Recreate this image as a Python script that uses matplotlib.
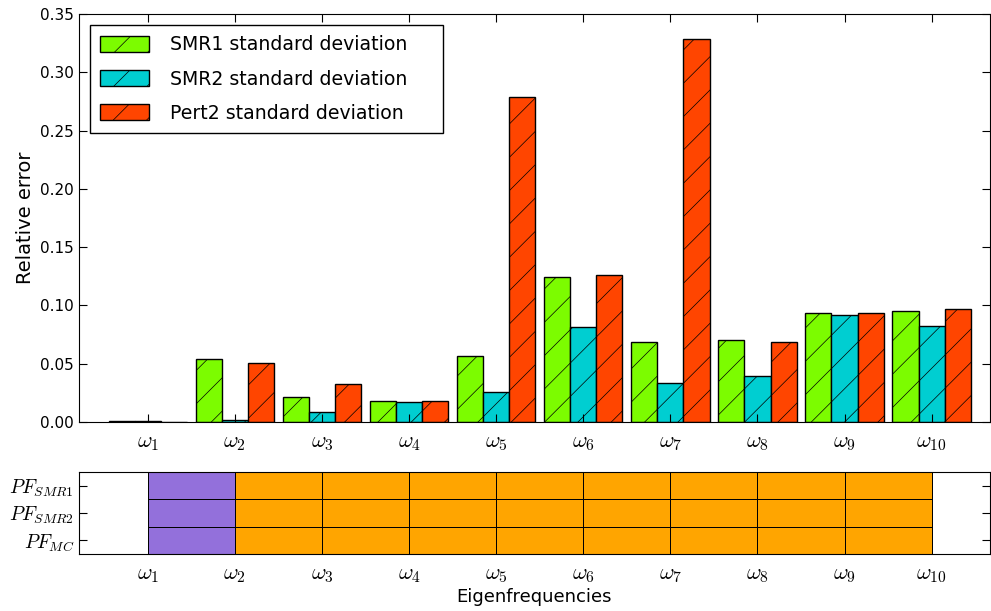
import numpy as np
import matplotlib
import matplotlib.pyplot as plt
from matplotlib.colors import ListedColormap

# Eigenfrequency labels
modes = [r'$\omega_{%d}$' % i for i in range(1, 11)]

# Relative error (standard deviations)
smr1_std = [0.0012, 0.054, 0.0215, 0.018, 0.0565, 0.1245, 0.0685, 0.070, 0.0932, 0.0955]
smr2_std = [0.0005, 0.0020, 0.0085, 0.017, 0.0257, 0.0818, 0.0335, 0.0395, 0.0918, 0.0825]
pert2_std = [0.0003, 0.0505, 0.0328, 0.018, 0.2785, 0.1262, 0.3288, 0.0685, 0.0932, 0.0968]

# Best performing method between consecutive eigenfrequencies (1 = purple, 0 = orange)
pf_rows = ['$PF_{SMR1}$', '$PF_{SMR2}$', '$PF_{MC}$']
pf_smr1 = [1, 0, 0, 0, 0, 0, 0, 0, 0]
pf_smr2 = [1, 0, 0, 0, 0, 0, 0, 0, 0]
pf_mc = [1, 0, 0, 0, 0, 0, 0, 0, 0]

plt.rcParams['mathtext.fontset'] = 'cm'
plt.rcParams['hatch.linewidth'] = 0.5

fig = plt.figure(figsize=(9.91, 6.11), dpi=100)
ax = fig.add_axes([79/991, 189/611, 911/991, 408/611])
ax2 = fig.add_axes([79/991, 57/611, 911/991, 82/611])

x = np.arange(1, 11)
w = 0.3
ax.bar(x - w, smr1_std, w, color='#7CFC00', edgecolor='black', hatch='/', label='SMR1 standard deviation')
ax.bar(x, smr2_std, w, color='#00CED1', edgecolor='black', hatch='/', label='SMR2 standard deviation')
ax.bar(x + w, pert2_std, w, color='#FF4500', edgecolor='black', hatch='/', label='Pert2 standard deviation')

ax.set_xlim(0.21, 10.67)
ax.set_ylim(0, 0.35)
ax.set_xticks(x)
ax.set_xticklabels(modes, fontsize=16)
ax.set_yticks(np.arange(0, 0.351, 0.05))
ax.set_yticklabels(['%.2f' % v for v in np.arange(0, 0.351, 0.05)], fontsize=11)
ax.set_ylabel('Relative error', fontsize=14)
ax.tick_params(direction='in', top=True, right=True, length=6)
ax.tick_params(axis='x', pad=8)
ax.legend(loc='upper left', bbox_to_anchor=(0.012, 0.973, 0.3875, 0.0), mode='expand',
          fontsize=13.6, handlelength=2.6, handleheight=0.95,
          borderpad=0.55, labelspacing=0.8, handletextpad=1.1, fancybox=False,
          edgecolor='black', framealpha=1, borderaxespad=0)

# Bottom panel: performance cells
grid = np.array([pf_mc, pf_smr2, pf_smr1])
cmap = ListedColormap(['#FFA500', '#9370DB'])
ax2.pcolormesh(np.arange(1, 11), np.arange(0, 4), grid, cmap=cmap, vmin=0, vmax=1,
               edgecolors='black', linewidth=0.7)
ax2.set_xlim(0.21, 10.67)
ax2.set_ylim(0, 3)
ax2.set_xticks(x)
ax2.set_xticklabels(modes, fontsize=16)
ax2.set_yticks([2.5, 1.5, 0.5])
ax2.set_yticklabels(pf_rows, fontsize=14)
ax2.tick_params(direction='in', right=True, length=6)
ax2.tick_params(axis='x', length=0, pad=8)
ax2.set_xlabel('Eigenfrequencies', fontsize=13, labelpad=2)

fig.savefig('out.png', dpi=100)
